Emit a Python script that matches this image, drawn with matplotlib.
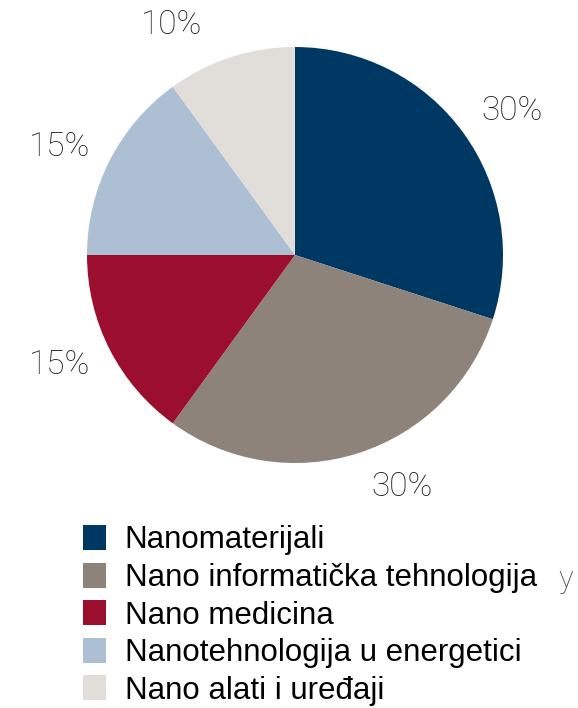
import matplotlib.pyplot as plt

# Share of nanotechnology fields
categories = [
    "Nanomaterijali",
    "Nano informatička tehnologija",
    "Nano medicina",
    "Nanotehnologija u energetici",
    "Nano alati i uređaji",
]
shares = [30, 30, 15, 15, 10]
colors = ["#003864", "#8d837b", "#9c0e2e", "#adbfd2", "#e1ded9"]

W, H = 578, 708
fig = plt.figure(figsize=(W / 100, H / 100), dpi=100)

# pie centre and radius in pixels
cx, cy, r = 295, 255, 208
ax = fig.add_axes([(cx - r) / W, (H - cy - r) / H, 2 * r / W, 2 * r / H])

wedges, _, pct = ax.pie(
    shares,
    colors=colors,
    startangle=90,
    counterclock=False,
    autopct="%d%%",
    pctdistance=1.25,
    wedgeprops=dict(linewidth=0),
    textprops=dict(fontsize=24, color="#1e1e1e", family="Roboto", fontweight="light"),
)
ax.set_xlim(-1, 1)
ax.set_ylim(-1, 1)
ax.set_aspect("equal")

# percentage labels sit a little off the mid-angle, place them by hand (pixels)
label_px = [(512, 111), (402, 487), (60, 365), (60, 147), (172, 25)]
for t, (px, py) in zip(pct, label_px):
    t.set_position(((px - cx) / r, (cy - py) / r))

fig.legend(
    wedges,
    categories,
    loc="upper left",
    bbox_to_anchor=(83 / W, 1 - 525 / H),
    frameon=False,
    borderpad=0,
    borderaxespad=0,
    handlelength=0.73,
    handleheight=0.86,
    handletextpad=0.6,
    labelspacing=0.23,
    prop=dict(family="Liberation Sans", size=22.5),
)

fig.text(566 / W, 1 - 580 / H, "y", fontsize=22, color="#444444",
         family="Roboto", fontweight="light", ha="center", va="center")

fig.savefig("out.png", dpi=100)
